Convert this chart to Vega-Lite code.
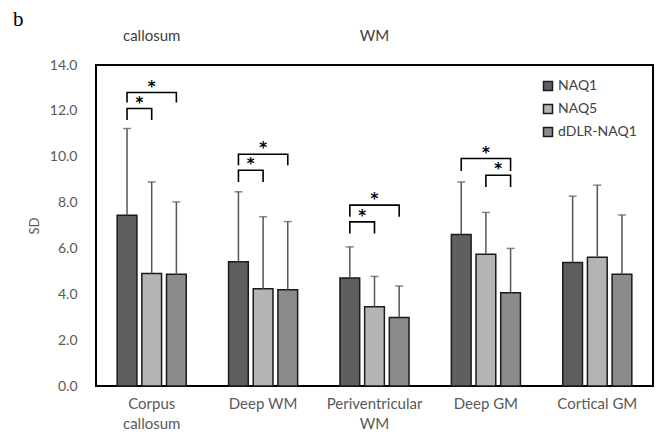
{
  "$schema": "https://vega.github.io/schema/vega-lite/v6.json",
  "width": 557,
  "height": 321,
  "autosize": {"type": "none"},
  "padding": {"left": 96, "top": 65, "right": 9, "bottom": 54},
  "background": "white",
  "title": {"text": "b", "anchor": "start", "frame": "group", "dx": -83, "offset": -1, "font": "Liberation Serif", "fontSize": 21, "fontWeight": "normal", "color": "#000000"},
  "config": {"view": {"stroke": "#000000", "strokeWidth": 2}, "font": "Lato", "axis": {"grid": false}},
  "datasets": {
    "bars": [
      {"region": "Corpus callosum", "method": "NAQ1", "sd": 7.45, "upper": 11.23},
      {"region": "Corpus callosum", "method": "NAQ5", "sd": 4.91, "upper": 8.9},
      {"region": "Corpus callosum", "method": "dDLR-NAQ1", "sd": 4.87, "upper": 8.03},
      {"region": "Deep WM", "method": "NAQ1", "sd": 5.42, "upper": 8.47},
      {"region": "Deep WM", "method": "NAQ5", "sd": 4.24, "upper": 7.38},
      {"region": "Deep WM", "method": "dDLR-NAQ1", "sd": 4.2, "upper": 7.17},
      {"region": "Periventricular WM", "method": "NAQ1", "sd": 4.71, "upper": 6.07},
      {"region": "Periventricular WM", "method": "NAQ5", "sd": 3.46, "upper": 4.78},
      {"region": "Periventricular WM", "method": "dDLR-NAQ1", "sd": 2.99, "upper": 4.36},
      {"region": "Deep GM", "method": "NAQ1", "sd": 6.61, "upper": 8.9},
      {"region": "Deep GM", "method": "NAQ5", "sd": 5.75, "upper": 7.57},
      {"region": "Deep GM", "method": "dDLR-NAQ1", "sd": 4.07, "upper": 6.0},
      {"region": "Cortical GM", "method": "NAQ1", "sd": 5.39, "upper": 8.28},
      {"region": "Cortical GM", "method": "NAQ5", "sd": 5.61, "upper": 8.76},
      {"region": "Cortical GM", "method": "dDLR-NAQ1", "sd": 4.87, "upper": 7.46}
    ],
    "brackets": [
      {"bracket": "cc_outer", "region": "Corpus callosum", "method": "NAQ1", "ord": 1, "val": 12.36},
      {"bracket": "cc_outer", "region": "Corpus callosum", "method": "NAQ1", "ord": 2, "val": 12.8},
      {"bracket": "cc_outer", "region": "Corpus callosum", "method": "dDLR-NAQ1", "ord": 3, "val": 12.8},
      {"bracket": "cc_outer", "region": "Corpus callosum", "method": "dDLR-NAQ1", "ord": 4, "val": 12.36},
      {"bracket": "cc_inner", "region": "Corpus callosum", "method": "NAQ1", "ord": 1, "val": 11.6},
      {"bracket": "cc_inner", "region": "Corpus callosum", "method": "NAQ1", "ord": 2, "val": 12.1},
      {"bracket": "cc_inner", "region": "Corpus callosum", "method": "NAQ5", "ord": 3, "val": 12.1},
      {"bracket": "cc_inner", "region": "Corpus callosum", "method": "NAQ5", "ord": 4, "val": 11.6},
      {"bracket": "dwm_outer", "region": "Deep WM", "method": "NAQ1", "ord": 1, "val": 9.63},
      {"bracket": "dwm_outer", "region": "Deep WM", "method": "NAQ1", "ord": 2, "val": 10.11},
      {"bracket": "dwm_outer", "region": "Deep WM", "method": "dDLR-NAQ1", "ord": 3, "val": 10.11},
      {"bracket": "dwm_outer", "region": "Deep WM", "method": "dDLR-NAQ1", "ord": 4, "val": 9.63},
      {"bracket": "dwm_inner", "region": "Deep WM", "method": "NAQ1", "ord": 1, "val": 8.9},
      {"bracket": "dwm_inner", "region": "Deep WM", "method": "NAQ1", "ord": 2, "val": 9.41},
      {"bracket": "dwm_inner", "region": "Deep WM", "method": "NAQ5", "ord": 3, "val": 9.41},
      {"bracket": "dwm_inner", "region": "Deep WM", "method": "NAQ5", "ord": 4, "val": 8.9},
      {"bracket": "pv_outer", "region": "Periventricular WM", "method": "NAQ1", "ord": 1, "val": 7.38},
      {"bracket": "pv_outer", "region": "Periventricular WM", "method": "NAQ1", "ord": 2, "val": 7.89},
      {"bracket": "pv_outer", "region": "Periventricular WM", "method": "dDLR-NAQ1", "ord": 3, "val": 7.89},
      {"bracket": "pv_outer", "region": "Periventricular WM", "method": "dDLR-NAQ1", "ord": 4, "val": 7.38},
      {"bracket": "pv_inner", "region": "Periventricular WM", "method": "NAQ1", "ord": 1, "val": 6.65},
      {"bracket": "pv_inner", "region": "Periventricular WM", "method": "NAQ1", "ord": 2, "val": 7.16},
      {"bracket": "pv_inner", "region": "Periventricular WM", "method": "NAQ5", "ord": 3, "val": 7.16},
      {"bracket": "pv_inner", "region": "Periventricular WM", "method": "NAQ5", "ord": 4, "val": 6.65},
      {"bracket": "dgm_outer", "region": "Deep GM", "method": "NAQ1", "ord": 1, "val": 9.38},
      {"bracket": "dgm_outer", "region": "Deep GM", "method": "NAQ1", "ord": 2, "val": 9.92},
      {"bracket": "dgm_outer", "region": "Deep GM", "method": "dDLR-NAQ1", "ord": 3, "val": 9.92},
      {"bracket": "dgm_outer", "region": "Deep GM", "method": "dDLR-NAQ1", "ord": 4, "val": 9.38},
      {"bracket": "dgm_inner", "region": "Deep GM", "method": "NAQ5", "ord": 1, "val": 8.68},
      {"bracket": "dgm_inner", "region": "Deep GM", "method": "NAQ5", "ord": 2, "val": 9.19},
      {"bracket": "dgm_inner", "region": "Deep GM", "method": "dDLR-NAQ1", "ord": 3, "val": 9.19},
      {"bracket": "dgm_inner", "region": "Deep GM", "method": "dDLR-NAQ1", "ord": 4, "val": 8.68}
    ],
    "stars": [
      {"region": "Corpus callosum", "method": "NAQ5", "pos": "mid", "val": 12.8},
      {"region": "Corpus callosum", "method": "NAQ1", "pos": "half", "val": 12.1},
      {"region": "Deep WM", "method": "NAQ5", "pos": "mid", "val": 10.11},
      {"region": "Deep WM", "method": "NAQ1", "pos": "half", "val": 9.41},
      {"region": "Periventricular WM", "method": "NAQ5", "pos": "mid", "val": 7.89},
      {"region": "Periventricular WM", "method": "NAQ1", "pos": "half", "val": 7.16},
      {"region": "Deep GM", "method": "NAQ5", "pos": "mid", "val": 9.92},
      {"region": "Deep GM", "method": "NAQ5", "pos": "half", "val": 9.19}
    ],
    "notes": [
      {"region": "Corpus callosum", "label": "callosum", "val": 15.25},
      {"region": "Periventricular WM", "label": "WM", "val": 15.25}
    ]
  },
  "layer": [
    {
      "data": {"name": "bars"},
      "mark": {"type": "bar", "stroke": "#1a1a1a", "strokeWidth": 1.5},
      "encoding": {
        "x": {
          "field": "region", "type": "nominal",
          "sort": ["Corpus callosum", "Deep WM", "Periventricular WM", "Deep GM", "Cortical GM"],
          "scale": {"paddingInner": 0.38, "paddingOuter": 0.19},
          "axis": {
            "title": null, "labelAngle": 0, "domain": false, "ticks": false, "tickSize": 0,
            "labelFontSize": 15, "labelColor": "#595959", "labelPadding": 10, "labelLineHeight": 20,
            "labelExpr": "datum.value == 'Corpus callosum' ? ['Corpus', 'callosum'] : datum.value == 'Periventricular WM' ? ['Periventricular', 'WM'] : datum.value"
          }
        },
        "xOffset": {
          "field": "method", "type": "nominal",
          "sort": ["NAQ1", "NAQ5", "dDLR-NAQ1"],
          "scale": {"paddingInner": 0.2, "paddingOuter": 0}
        },
        "y": {
          "field": "sd", "type": "quantitative",
          "scale": {"domain": [0, 14], "nice": false},
          "axis": {
            "title": "SD", "titleFontSize": 13, "titleFontWeight": "normal", "titleColor": "#595959", "titlePadding": 8,
            "values": [0, 2, 4, 6, 8, 10, 12, 14], "format": ".1f",
            "labelFontSize": 14, "labelColor": "#595959", "domain": false, "ticks": false, "tickSize": 0, "labelPadding": 19
          }
        },
        "color": {
          "field": "method", "type": "nominal",
          "scale": {"domain": ["NAQ1", "NAQ5", "dDLR-NAQ1"], "range": ["#5f5f5f", "#b4b4b4", "#8b8b8b"]},
          "legend": {
            "title": null, "orient": "none", "legendX": 445, "legendY": 14,
            "symbolType": "square", "symbolSize": 81, "symbolStrokeColor": "#1a1a1a", "symbolStrokeWidth": 1.5,
            "labelFontSize": 14, "labelColor": "#404040", "rowPadding": 7, "labelOffset": 3
          }
        }
      }
    },
    {
      "data": {"name": "bars"},
      "mark": {"type": "rule", "color": "#555555", "strokeWidth": 1.5},
      "encoding": {
        "x": {"field": "region", "type": "nominal", "sort": ["Corpus callosum", "Deep WM", "Periventricular WM", "Deep GM", "Cortical GM"]},
        "xOffset": {"field": "method", "type": "nominal", "sort": ["NAQ1", "NAQ5", "dDLR-NAQ1"]},
        "y": {"field": "sd", "type": "quantitative"},
        "y2": {"field": "upper"}
      }
    },
    {
      "data": {"name": "bars"},
      "mark": {"type": "tick", "color": "#555555", "thickness": 1.5, "size": 8},
      "encoding": {
        "x": {"field": "region", "type": "nominal", "sort": ["Corpus callosum", "Deep WM", "Periventricular WM", "Deep GM", "Cortical GM"]},
        "xOffset": {"field": "method", "type": "nominal", "sort": ["NAQ1", "NAQ5", "dDLR-NAQ1"]},
        "y": {"field": "upper", "type": "quantitative"}
      }
    },
    {
      "data": {"name": "brackets"},
      "mark": {"type": "line", "color": "#000000", "strokeWidth": 1.6},
      "encoding": {
        "x": {"field": "region", "type": "nominal", "sort": ["Corpus callosum", "Deep WM", "Periventricular WM", "Deep GM", "Cortical GM"]},
        "xOffset": {"field": "method", "type": "nominal", "sort": ["NAQ1", "NAQ5", "dDLR-NAQ1"]},
        "y": {"field": "val", "type": "quantitative"},
        "detail": {"field": "bracket"},
        "order": {"field": "ord", "type": "quantitative"}
      }
    },
    {
      "data": {"name": "stars"},
      "transform": [{"filter": "datum.pos == 'mid'"}],
      "mark": {"type": "text", "text": "*", "font": "DejaVu Sans", "fontSize": 15, "fontWeight": "bold", "fill": "#000000", "baseline": "alphabetic", "align": "center", "dy": -1},
      "encoding": {
        "x": {"field": "region", "type": "nominal", "sort": ["Corpus callosum", "Deep WM", "Periventricular WM", "Deep GM", "Cortical GM"]},
        "xOffset": {"field": "method", "type": "nominal", "sort": ["NAQ1", "NAQ5", "dDLR-NAQ1"]},
        "y": {"field": "val", "type": "quantitative"}
      }
    },
    {
      "data": {"name": "stars"},
      "transform": [{"filter": "datum.pos == 'half'"}],
      "mark": {"type": "text", "text": "*", "font": "DejaVu Sans", "fontSize": 15, "fontWeight": "bold", "fill": "#000000", "baseline": "alphabetic", "align": "center", "dx": 12.3, "dy": -1},
      "encoding": {
        "x": {"field": "region", "type": "nominal", "sort": ["Corpus callosum", "Deep WM", "Periventricular WM", "Deep GM", "Cortical GM"]},
        "xOffset": {"field": "method", "type": "nominal", "sort": ["NAQ1", "NAQ5", "dDLR-NAQ1"]},
        "y": {"field": "val", "type": "quantitative"}
      }
    },
    {
      "data": {"name": "notes"},
      "mark": {"type": "text", "fontSize": 15, "color": "#404040", "baseline": "middle", "align": "center"},
      "encoding": {
        "x": {"field": "region", "type": "nominal", "sort": ["Corpus callosum", "Deep WM", "Periventricular WM", "Deep GM", "Cortical GM"]},
        "y": {"field": "val", "type": "quantitative"},
        "text": {"field": "label"}
      }
    }
  ]
}
